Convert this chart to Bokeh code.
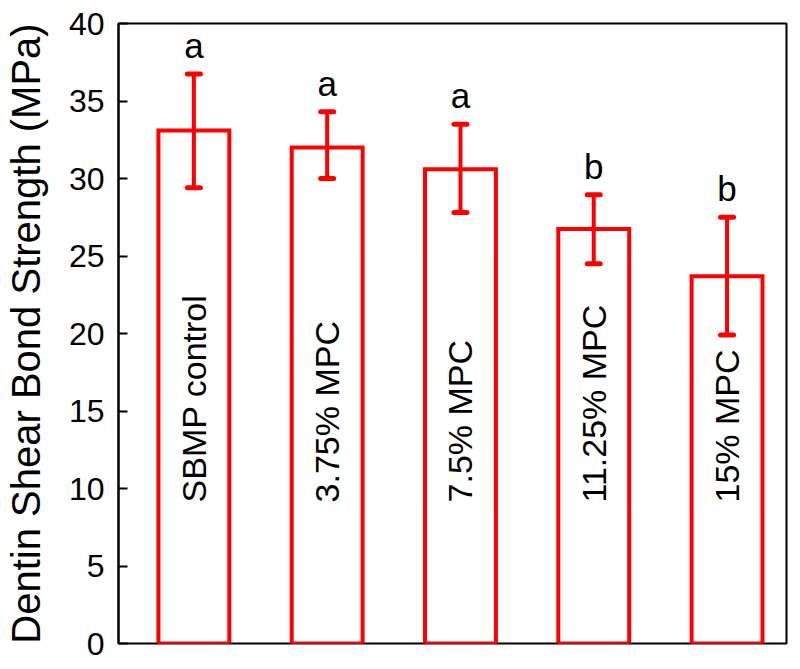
from bokeh.plotting import figure
from bokeh.models import ColumnDataSource, Range1d, FixedTicker, Whisker, TeeHead
from bokeh.embed import file_html
from bokeh.resources import INLINE
from bokeh.core.properties import value
import math

# ---- data ----
groups = ["SBMP control", "3.75% MPC", "7.5% MPC", "11.25% MPC", "15% MPC"]
positions = [1, 2, 3, 4, 5]
means = [33.1, 32.0, 30.6, 26.75, 23.7]
upper = [36.75, 34.3, 33.5, 28.95, 27.5]
lower = [29.4, 30.0, 27.8, 24.5, 19.9]
letters = ["a", "a", "a", "b", "b"]
y_ticks = [0, 5, 10, 15, 20, 25, 30, 35, 40]

LETTER_GAP = 1.85   # data units between whisker top and letter anchor
LABEL_Y = 9.1       # where the rotated group labels start

src = ColumnDataSource(dict(x=positions, top=means, upper=upper, lower=lower,
                            letter=letters, name=groups,
                            letter_y=[u + LETTER_GAP for u in upper]))

FONT = "Liberation Sans"
RED = "#ff0000"

p = figure(width=800, height=669, output_backend="svg", toolbar_location=None,
           x_range=Range1d(0.4345, 5.446), y_range=Range1d(0, 40),
           min_border_left=117, min_border_right=14, min_border_top=23,
           min_border_bottom=26)

p.background_fill_color = "white"
p.border_fill_color = "white"
p.outline_line_color = "black"
p.outline_line_width = 2
p.xgrid.visible = False
p.ygrid.visible = False
p.xaxis.visible = False

ya = p.yaxis[0]
ya.ticker = FixedTicker(ticks=y_ticks)
ya.minor_tick_line_color = None
ya.major_tick_in = 9
ya.major_tick_out = 0
ya.major_tick_line_width = 2
ya.axis_line_width = 2
ya.axis_line_color = "black"
ya.major_tick_line_color = "black"
ya.major_label_text_font = FONT
ya.major_label_text_font_size = "32px"
ya.major_label_text_color = "black"
ya.major_label_standoff = 14
ya.axis_label = "Dentin Shear Bond Strength (MPa)"
ya.axis_label_text_font = FONT
ya.axis_label_text_font_size = "40px"
ya.axis_label_text_font_style = "normal"
ya.axis_label_text_color = "black"
ya.axis_label_standoff = 18

p.vbar(x="x", top="top", bottom=0, width=0.532, source=src,
       fill_color="white", line_color=RED, line_width=4, line_join="miter")

w = Whisker(base="x", upper="upper", lower="lower", source=src,
            line_color=RED, line_width=4, level="overlay",
            upper_head=TeeHead(size=13, line_color=RED, line_width=5, line_cap="round"),
            lower_head=TeeHead(size=13, line_color=RED, line_width=5, line_cap="round"))
p.add_layout(w)

p.text(x="x", y="letter_y", text="letter", source=src, text_align="center",
       text_baseline="alphabetic", text_font=value(FONT),
       text_font_size="35px", text_color="black")

p.text(x="x", y=LABEL_Y, text="name", source=src, angle=math.pi / 2,
       text_align="left", text_baseline="middle", text_font=value(FONT),
       text_font_size="34px", text_color="black")

open("out.html", "w").write(file_html(p, INLINE))
